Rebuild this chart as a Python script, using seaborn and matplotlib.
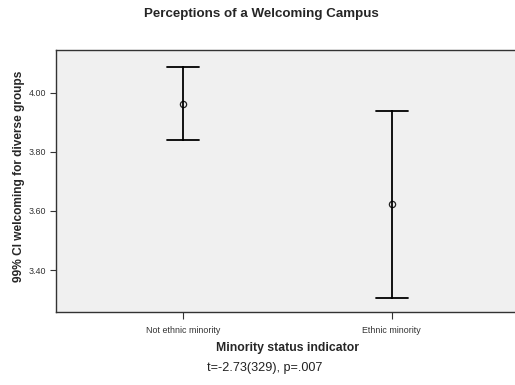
import matplotlib
matplotlib.use("Agg")
import matplotlib.pyplot as plt
import seaborn as sns
import pandas as pd

# Group means with 99% confidence limits
groups = ["Not ethnic minority", "Ethnic minority"]
lower = [3.838, 3.306]
means = [3.962, 3.624]
upper = [4.088, 3.939]
y_ticks = [3.40, 3.60, 3.80, 4.00]

sns.set_theme(style="white")
plt.rcParams["font.family"] = ["Liberation Sans", "DejaVu Sans"]

# Long table: median of (lower, mean, upper) is the mean, full range is the CI
rows = []
for g, lo, m, hi in zip(groups, lower, means, upper):
    for v in (lo, m, hi):
        rows.append({"group": g, "value": v})
df = pd.DataFrame(rows)

fig = plt.figure(figsize=(5.15, 3.85), dpi=100)
ax = fig.add_axes([56 / 515, 73 / 385, 463 / 515, 262 / 385])
ax.set_facecolor("#f0f0f0")

sns.pointplot(
    data=df, x="group", y="value", order=groups,
    estimator="median", errorbar=("pi", 100),
    color="black", linestyle="none", markers="o",
    capsize=0.154, err_kws={"linewidth": 1.3},
    ax=ax,
)
for ln in ax.lines:
    if ln.get_marker() == "o":
        ln.set_markerfacecolor("none")
        ln.set_markeredgecolor("#222222")
        ln.set_markersize(4.5)
        ln.set_markeredgewidth(0.9)

ax.set_xlim(-0.611, 1.611)
ax.set_ylim(3.258, 4.144)
ax.set_yticks(y_ticks)
ax.set_yticklabels([f"{t:.2f}" for t in y_ticks])

for side in ("left", "top", "bottom", "right"):
    ax.spines[side].set_color("#333333")
    ax.spines[side].set_linewidth(1.0)

ax.tick_params(axis="both", which="both", direction="out", length=4,
               width=0.8, color="#333333", labelsize=6.4, labelcolor="#333333",
               left=True, bottom=True, pad=3)
ax.tick_params(axis="x", length=5, pad=5)

ax.set_xlabel("Minority status indicator", fontsize=8.8, fontweight="bold",
              labelpad=5)
ax.set_ylabel("99% CI welcoming for diverse groups", fontsize=8.6,
              fontweight="bold", labelpad=3)
ax.yaxis.set_label_coords(-0.068, 0.517)

fig.text(261 / 515, 1 - 14 / 385, "Perceptions of a Welcoming Campus",
         ha="center", va="center", fontsize=9.6, fontweight="bold")
fig.text(265 / 515, 1 - 368 / 385, "t=-2.73(329), p=.007",
         ha="center", va="center", fontsize=9.1, color="#222222")

fig.savefig("out.png", dpi=100, facecolor="white")
